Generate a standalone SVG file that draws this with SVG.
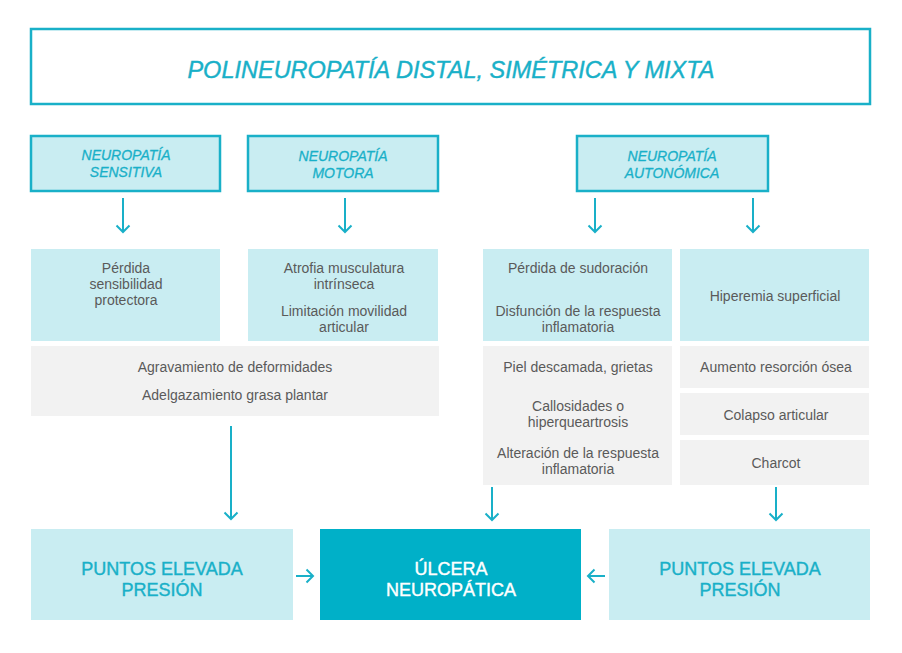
<svg xmlns="http://www.w3.org/2000/svg" width="902" height="653" viewBox="0 0 902 653">
<defs>
<style>
.title{fill:none;stroke:#19b0c8;stroke-width:2.5}
.hdr{fill:#c9edf2;stroke:#19b0c8;stroke-width:2.5}
.cy{fill:#c9edf2}
.gr{fill:#f2f2f2}
.dk{fill:#00b0c8}
.tt{font-family:"Liberation Sans",Arial,sans-serif;font-style:italic;font-size:23.5px;fill:#19b0c8;stroke:#19b0c8;stroke-width:0.4;text-anchor:middle}
.ht{font-family:"Liberation Sans",Arial,sans-serif;font-style:italic;font-size:14px;fill:#19b0c8;stroke:#19b0c8;stroke-width:0.3;text-anchor:middle}
.bt{font-family:"Liberation Sans",Arial,sans-serif;font-size:14px;fill:#5a5a5a;text-anchor:middle}
.bl{font-family:"Liberation Sans",Arial,sans-serif;font-size:18px;fill:#19b0c8;stroke:#19b0c8;stroke-width:0.4;text-anchor:middle}
.bw{font-family:"Liberation Sans",Arial,sans-serif;font-size:18px;fill:#ffffff;stroke:#ffffff;stroke-width:0.4;text-anchor:middle}
.ar{fill:none;stroke:#19b0c8;stroke-width:2;marker-end:url(#ah)}
</style>
<marker id="ah" markerUnits="userSpaceOnUse" markerWidth="16" markerHeight="16" refX="8" refY="8" orient="auto" viewBox="0 0 16 16">
<path d="M1.5,1.5 L8,8 L1.5,14.5" fill="none" stroke="#19b0c8" stroke-width="2"/>
</marker>
</defs>

<g id="title">
<rect class="title" x="31" y="29" width="839" height="75"/>
<text class="tt" x="451" y="78">POLINEUROPATÍA DISTAL, SIMÉTRICA Y MIXTA</text>
</g>

<g id="h-sensitiva">
<rect class="hdr" x="31" y="136" width="189" height="55"/>
<text class="ht" x="126" y="160">NEUROPATÍA</text>
<text class="ht" x="126" y="177">SENSITIVA</text>
</g>
<g id="h-motora">
<rect class="hdr" x="248" y="136" width="190" height="55"/>
<text class="ht" x="343" y="161">NEUROPATÍA</text>
<text class="ht" x="343" y="178">MOTORA</text>
</g>
<g id="h-autonomica">
<rect class="hdr" x="577" y="136" width="191" height="55"/>
<text class="ht" x="672" y="161">NEUROPATÍA</text>
<text class="ht" x="672" y="178">AUTONÓMICA</text>
</g>

<g id="c-sensitiva">
<rect class="cy" x="31" y="249" width="189" height="92"/>
<text class="bt" x="126" y="273">Pérdida</text>
<text class="bt" x="126" y="289">sensibilidad</text>
<text class="bt" x="126" y="305">protectora</text>
</g>
<g id="c-motora">
<rect class="cy" x="248" y="249" width="190" height="92"/>
<text class="bt" x="344" y="273">Atrofia musculatura</text>
<text class="bt" x="344" y="289">intrínseca</text>
<text class="bt" x="344" y="316">Limitación movilidad</text>
<text class="bt" x="344" y="332">articular</text>
</g>
<g id="c-auto1">
<rect class="cy" x="483" y="249" width="189" height="92"/>
<text class="bt" x="578" y="273">Pérdida de sudoración</text>
<text class="bt" x="578" y="316">Disfunción de la respuesta</text>
<text class="bt" x="578" y="332">inflamatoria</text>
</g>
<g id="c-auto2">
<rect class="cy" x="680" y="249" width="189" height="92"/>
<text class="bt" x="775" y="301">Hiperemia superficial</text>
</g>

<g id="g-deform">
<rect class="gr" x="31" y="346" width="408" height="70"/>
<text class="bt" x="235" y="372">Agravamiento de deformidades</text>
<text class="bt" x="235" y="400">Adelgazamiento grasa plantar</text>
</g>
<g id="g-piel">
<rect class="gr" x="483" y="346" width="189" height="139"/>
<text class="bt" x="578" y="372">Piel descamada, grietas</text>
<text class="bt" x="578" y="411">Callosidades o</text>
<text class="bt" x="578" y="427">hiperqueartrosis</text>
<text class="bt" x="578" y="458">Alteración de la respuesta</text>
<text class="bt" x="578" y="474">inflamatoria</text>
</g>
<g id="g-resorcion">
<rect class="gr" x="680" y="346" width="189" height="42"/>
<text class="bt" x="776" y="372">Aumento resorción ósea</text>
</g>
<g id="g-colapso">
<rect class="gr" x="680" y="393" width="189" height="42"/>
<text class="bt" x="776" y="420">Colapso articular</text>
</g>
<g id="g-charcot">
<rect class="gr" x="680" y="440" width="189" height="45"/>
<text class="bt" x="776" y="468">Charcot</text>
</g>

<g id="b-puntos1">
<rect class="cy" x="31" y="529" width="262" height="91"/>
<text class="bl" x="162" y="575">PUNTOS ELEVADA</text>
<text class="bl" x="162" y="596">PRESIÓN</text>
</g>
<g id="b-ulcera">
<rect class="dk" x="320" y="529" width="261" height="91"/>
<text class="bw" x="451" y="575">ÚLCERA</text>
<text class="bw" x="451" y="596">NEUROPÁTICA</text>
</g>
<g id="b-puntos2">
<rect class="cy" x="609" y="529" width="261" height="91"/>
<text class="bl" x="740" y="575">PUNTOS ELEVADA</text>
<text class="bl" x="740" y="596">PRESIÓN</text>
</g>

<g id="connectors">
<path class="ar" d="M123,198 V232"/>
<path class="ar" d="M345,198 V232"/>
<path class="ar" d="M595,198 V232"/>
<path class="ar" d="M753,198 V232"/>
<path class="ar" d="M231,426 V519"/>
<path class="ar" d="M492,487 V520"/>
<path class="ar" d="M776,487 V520"/>
<path class="ar" d="M296,576 H313"/>
<path class="ar" d="M605,576 H588"/>
</g>
</svg>
